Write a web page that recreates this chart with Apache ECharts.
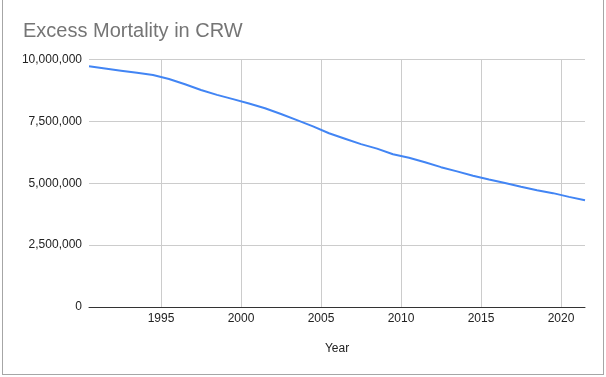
<!DOCTYPE html>
<html>
<head>
<meta charset="utf-8">
<script src="https://cdn.jsdelivr.net/npm/echarts@6/dist/echarts.min.js"></script>
<style>
  html, body { margin: 0; padding: 0; background: #fff; }
  #chart { position: absolute; left: 0; top: 0; width: 606px; height: 377px; }
  #frame { position: absolute; left: 2px; top: -2px; width: 600px; height: 375px;
           border: 1px solid #a6a6a6; pointer-events: none; }
</style>
</head>
<body>
<div id="chart"></div>
<div id="frame"></div>
<script>
// Data (mid-year points)
const years = [1990.5, 1991.5, 1992.5, 1993.5, 1994.5, 1995.5, 1996.5, 1997.5, 1998.5, 1999.5,
               2000.5, 2001.5, 2002.5, 2003.5, 2004.5, 2005.5, 2006.5, 2007.5, 2008.5, 2009.5,
               2010.5, 2011.5, 2012.5, 2013.5, 2014.5, 2015.5, 2016.5, 2017.5, 2018.5, 2019.5,
               2020.5, 2021.5];
const mortality = [9730000, 9640000, 9550000, 9460000, 9370000, 9210000, 9000000, 8770000, 8570000, 8400000,
                   8220000, 8030000, 7800000, 7550000, 7300000, 7020000, 6800000, 6580000, 6400000, 6170000,
                   6030000, 5850000, 5650000, 5480000, 5300000, 5150000, 5010000, 4860000, 4720000, 4600000,
                   4450000, 4310000];
const xTicks = [1995, 2000, 2005, 2010, 2015, 2020];
const yTicks = [0, 2500000, 5000000, 7500000, 10000000];
const titleText = 'Excess Mortality in CRW';
const xName = 'Year';

const chart = echarts.init(document.getElementById('chart'), null, { renderer: 'canvas' });
chart.setOption({
  animation: false,
  backgroundColor: '#ffffff',
  title: {
    text: titleText,
    left: 23,
    top: 21,
    padding: 0,
    textStyle: { fontFamily: 'Liberation Sans, Arial, sans-serif', fontSize: 20, fontWeight: 'normal', color: '#757575' }
  },
  grid: { left: 89, right: 21, top: 59.5, bottom: 70, containLabel: false },
  xAxis: {
    type: 'value',
    min: years[0],
    max: years[years.length - 1],
    name: xName,
    nameLocation: 'middle',
    nameGap: 36,
    nameTextStyle: { fontFamily: 'Liberation Sans, Arial, sans-serif', fontSize: 12, color: '#222' },
    axisLine: { show: true, lineStyle: { color: '#333', width: 1 } },
    axisTick: { show: false, customValues: xTicks },
    axisLabel: {
      customValues: xTicks,
      margin: 6,
      formatter: v => String(v),
      fontFamily: 'Liberation Sans, Arial, sans-serif', fontSize: 12, color: '#222'
    },
    splitLine: { show: true, lineStyle: { color: '#cccccc', width: 1 } }
  },
  yAxis: {
    type: 'value',
    min: yTicks[0],
    max: yTicks[yTicks.length - 1],
    interval: yTicks[1] - yTicks[0],
    axisLine: { show: false },
    axisTick: { show: false },
    axisLabel: {
      margin: 7,
      fontFamily: 'Liberation Sans, Arial, sans-serif', fontSize: 12, color: '#222',
      formatter: v => v.toLocaleString('en-US')
    },
    splitLine: { show: true, lineStyle: { color: '#cccccc', width: 1 } }
  },
  series: [{
    type: 'line',
    data: years.map((y, i) => [y, mortality[i]]),
    showSymbol: false,
    symbol: 'none',
    lineStyle: { color: '#4285F4', width: 2 },
    itemStyle: { color: '#4285F4' }
  }]
});
</script>
</body>
</html>
